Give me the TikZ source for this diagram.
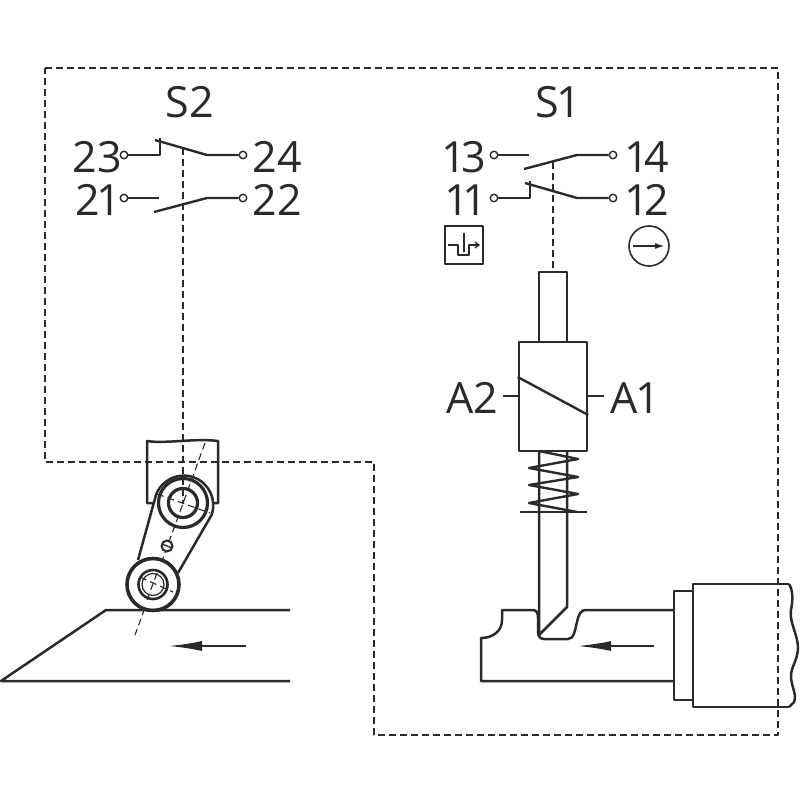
\documentclass[tikz,border=0pt]{standalone}
\usepackage{fontspec}
\usepackage{xcolor}
\usepackage{tikz}
\setmainfont[Numbers=Proportional]{Open Sans}
\usetikzlibrary{arrows.meta, positioning}
\definecolor{ink}{HTML}{2A2A2A}

\begin{document}
\begin{tikzpicture}[
        x=1pt, y=-1pt,
        line join=round,
        lbl/.style={text=ink, font=\fontsize{43}{43}\selectfont, inner sep=0pt, text height=31pt, text depth=0pt},
        term/.style={circle, draw=ink, line width=1.4pt, fill=white, minimum size=7.5pt, inner sep=0pt},
        wire/.style={draw=ink, line width=2.4pt},
        thin line/.style={draw=ink, line width=1.1pt, dash pattern=on 7pt off 4pt},
        edge line/.style={draw=ink, line width=2.5pt},
        thick line/.style={draw=ink, line width=3.2pt},
        flow/.style={draw=ink, line width=2.2pt, -{Latex[length=34pt, width=10pt]}}
    ]
        \useasboundingbox (0,0) rectangle (800,800);

        % enclosure
        \draw [thin line] (45,68) -- (778,68) -- (778,735) -- (374,735) -- (374,462) -- (45,462) -- cycle;

        % contacts S2
        \node [lbl] (s2) at (190,102) {S2};
        \node [term] (t23) at (124,155) {};
        \node [term] (t24) at (243,155) {};
        \node [term] (t21) at (124,198) {};
        \node [term] (t22) at (243,198) {};
        \node [lbl] at (97,157) {23};
        \node [lbl] at (277,157) {24};
        \node [lbl] at (96,200) {21};
        \node [lbl] at (277,200) {22};
        \draw [wire] (t23) -- (160,155) -- (160,138);
        \draw [wire] (t24) -- (207,155) -- (155,140);
        \draw [wire] (t21) -- (159,198);
        \draw [wire] (t22) -- (207,198) -- (154,212);

        % contacts S1
        \node [lbl] (s1) at (556,102) {S1};
        \node [term] (t13) at (494,155) {};
        \node [term] (t14) at (613,155) {};
        \node [term] (t11) at (494,198) {};
        \node [term] (t12) at (613,198) {};
        \node [lbl] at (465,157) {13};
        \node [lbl] at (648,157) {14};
        \node [lbl] at (465,200) {11};
        \node [lbl] at (648,200) {12};
        \draw [wire] (t13) -- (529,155);
        \draw [wire] (t14) -- (577,155) -- (524,169);
        \draw [wire] (t11) -- (530,198) -- (530,181);
        \draw [wire] (t12) -- (577,198) -- (525,183);

        % symbols
        \draw [draw=ink, line width=1.3pt] (445,226) rectangle (483,264);
        \draw [draw=ink, line width=1.3pt, -{Straight Barb[length=4pt, width=6pt]}] (448,245) -- (458,245) -- (458,255) -- (469,255) -- (469,245) -- (480,245);
        \draw [wire] (464,233) -- (464,252);
        \draw [draw=ink, line width=1.6pt] (649,246) circle (20);
        \draw [draw=ink, line width=1.8pt, -{Latex[length=10pt, width=6pt]}] (633,246) -- (665,246);

        % actuator S1
        \draw [thin line] (553,162) -- (553,272);
        \draw [edge line] (539,342) -- (539,272) -- (567,272) -- (567,342);
        \node [draw=ink, line width=2.5pt, minimum width=68pt, minimum height=109pt, inner sep=0pt] (coil) at (553,396.5) {};
        \draw [wire] (coil.west |- 0,377) -- (coil.east |- 0,415);
        \node [lbl] (a2) at (472,398) {A2};
        \node [lbl] (a1) at (633,398) {A1};
        \draw [wire] (503,396) -- (coil.west |- 0,396);
        \draw [wire] (coil.east |- 0,396) -- (604,396);

        % spring and rod
        \draw [wire] (539,451) -- (578,459) -- (529,468) -- (578,477) -- (529,485) -- (578,494) -- (529,503) -- (577,512);
        \draw [wire] (520,512) -- (587,512);
        \draw [edge line] (539,451) -- (539,635) -- (567,607) -- (567,451);

        % cam S1
        \draw [edge line] (674,610) -- (587,610) .. controls (580,610) and (579,614) .. (577,622)
            .. controls (575,630) and (574,639) .. (568,639) -- (544,639)
            .. controls (540,639) and (538,636) .. (538,632) -- (538,617)
            .. controls (538,612) and (536,610) .. (532,610) -- (502,610) -- (502,620)
            .. controls (502,631) and (493,638) .. (481,638) -- (481,681) -- (674,681);
        \draw [flow] (654,646) -- (577,646);
        \draw [edge line] (693,591) -- (674,591) -- (674,700) -- (693,700);
        \draw [edge line] (789,584) -- (693,584) -- (693,707) -- (789,707);
        \draw [edge line] (789,584) .. controls (793,590) and (793,600) .. (791,610)
            .. controls (789,622) and (798,635) .. (798,648)
            .. controls (798,660) and (790,668) .. (791,678)
            .. controls (792,688) and (797,695) .. (794,702) -- (789,707);

        % housing S2
        \draw [edge line] (156,503) -- (147,503) -- (147,441) .. controls (165,444) and (195,438) .. (218,441) -- (218,503) -- (212,503);

        % lever S2
        \draw [edge line, fill=white] (138,560) -- (156,495) arc[start angle=-160, end angle=20, radius=29.5] -- (178,573);
        \draw [thin line] (183,148) -- (183,503);
        \draw [thin line] (205,443) -- (135,635);
        \draw [thin line] (157,494) -- (210,513);
        \draw [thick line] (183,503) circle (24.5);
        \draw [thick line] (183,503) circle (14.5);
        \draw [draw=ink, line width=2pt, fill=white] (167,546) circle (5.5);
        \draw [draw=ink, line width=1.4pt] (162,544) -- (172,548);

        % roller S2
        \draw [draw=ink, line width=3.6pt, fill=white] (153,584.5) circle (26);
        \draw [thin line] (140,577) -- (173,592);
        \draw [thin line] (157,573) -- (147,600);
        \draw [draw=ink, line width=2.6pt] (153,584.5) circle (14.5);
        \draw [draw=ink, line width=1.2pt] (153,584.5) circle (11);

        % slide S2
        \draw [edge line] (290,610) -- (106,610) -- (1,681) -- (290,681);
        \draw [flow] (246,646) -- (168,646);
    \end{tikzpicture}
\end{document}
